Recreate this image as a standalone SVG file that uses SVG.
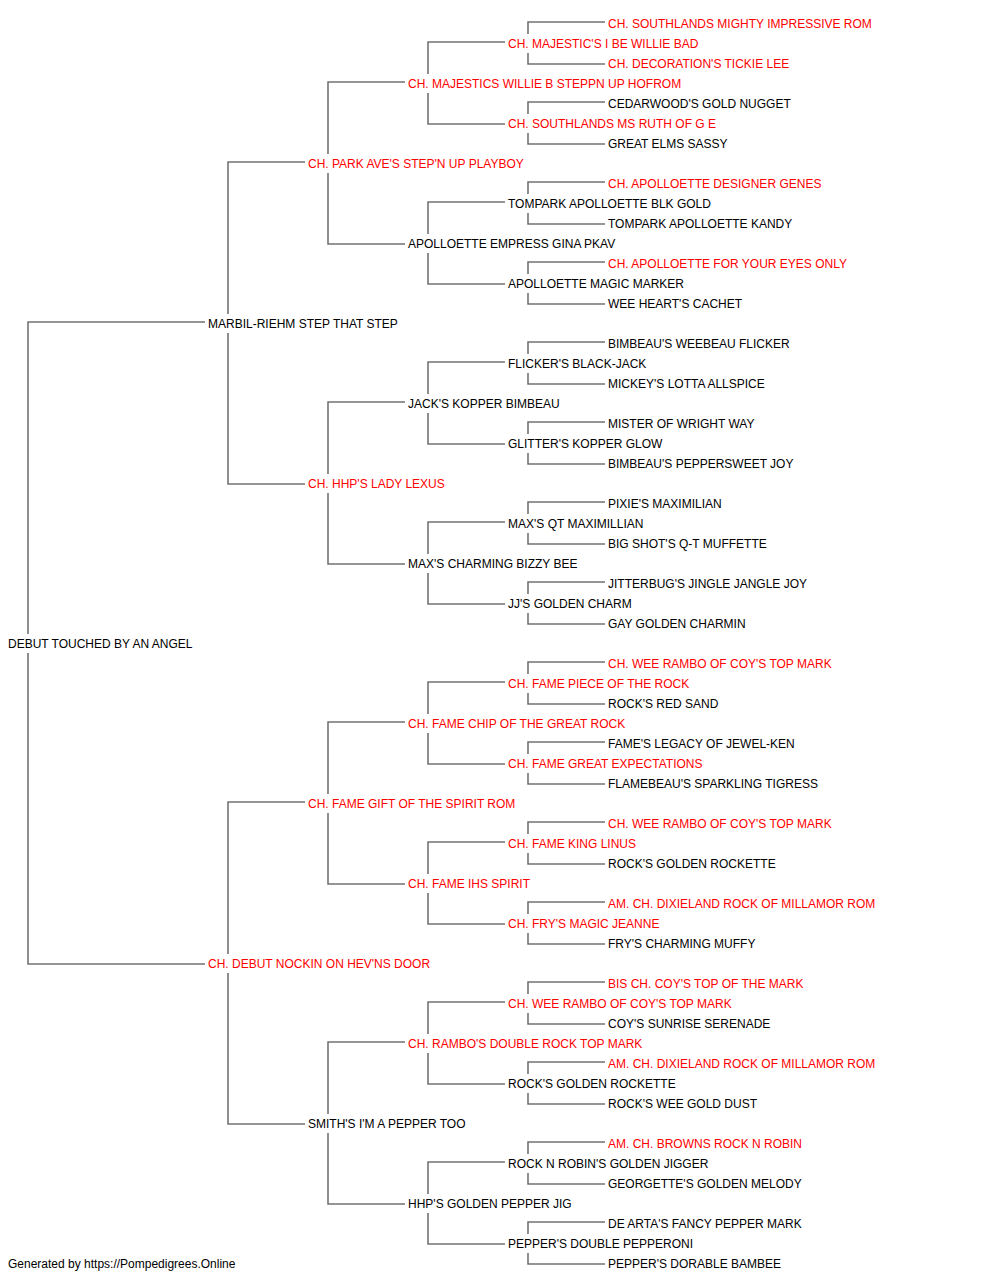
<svg xmlns="http://www.w3.org/2000/svg" width="1000" height="1280" viewBox="0 0 1000 1280">
<style>
text{font-family:"Liberation Sans",Arial,sans-serif;font-size:12px;fill:#000}
text.ch{fill:#ff0000}
.c path{fill:none;stroke:#737373;stroke-width:1.6}
</style>
<rect width="1000" height="1280" fill="#fff"/>
<g class="c" id="connectors">
<path d="M205,322 H28 V634 M28,653 V964 H205"/>
<path d="M305,162 H228 V314 M228,333 V484 H305"/>
<path d="M305,802 H228 V954 M228,973 V1124 H305"/>
<path d="M405,82 H328 V154 M328,173 V244 H405"/>
<path d="M405,402 H328 V474 M328,493 V564 H405"/>
<path d="M405,722 H328 V794 M328,813 V884 H405"/>
<path d="M405,1042 H328 V1114 M328,1133 V1204 H405"/>
<path d="M505,42 H428 V74 M428,93 V124 H505"/>
<path d="M505,202 H428 V234 M428,253 V284 H505"/>
<path d="M505,362 H428 V394 M428,413 V444 H505"/>
<path d="M505,522 H428 V554 M428,573 V604 H505"/>
<path d="M505,682 H428 V714 M428,733 V764 H505"/>
<path d="M505,842 H428 V874 M428,893 V924 H505"/>
<path d="M505,1002 H428 V1034 M428,1053 V1084 H505"/>
<path d="M505,1162 H428 V1194 M428,1213 V1244 H505"/>
<path d="M605,22 H528 V34 M528,53 V64 H605"/>
<path d="M605,102 H528 V114 M528,133 V144 H605"/>
<path d="M605,182 H528 V194 M528,213 V224 H605"/>
<path d="M605,262 H528 V274 M528,293 V304 H605"/>
<path d="M605,342 H528 V354 M528,373 V384 H605"/>
<path d="M605,422 H528 V434 M528,453 V464 H605"/>
<path d="M605,502 H528 V514 M528,533 V544 H605"/>
<path d="M605,582 H528 V594 M528,613 V624 H605"/>
<path d="M605,662 H528 V674 M528,693 V704 H605"/>
<path d="M605,742 H528 V754 M528,773 V784 H605"/>
<path d="M605,822 H528 V834 M528,853 V864 H605"/>
<path d="M605,902 H528 V914 M528,933 V944 H605"/>
<path d="M605,982 H528 V994 M528,1013 V1024 H605"/>
<path d="M605,1062 H528 V1074 M528,1093 V1104 H605"/>
<path d="M605,1142 H528 V1154 M528,1173 V1184 H605"/>
<path d="M605,1222 H528 V1234 M528,1253 V1264 H605"/>
</g>
<g id="n-root"><text x="8" y="648">DEBUT TOUCHED BY AN ANGEL</text></g>
<g id="n-s"><text x="208" y="328">MARBIL-RIEHM STEP THAT STEP</text></g>
<g id="n-d"><text class="ch" x="208" y="968">CH. DEBUT NOCKIN ON HEV'NS DOOR</text></g>
<g id="n-ss"><text class="ch" x="308" y="168">CH. PARK AVE'S STEP'N UP PLAYBOY</text></g>
<g id="n-sd"><text class="ch" x="308" y="488">CH. HHP'S LADY LEXUS</text></g>
<g id="n-ds"><text class="ch" x="308" y="808">CH. FAME GIFT OF THE SPIRIT ROM</text></g>
<g id="n-dd"><text x="308" y="1128">SMITH'S I'M A PEPPER TOO</text></g>
<g id="n-sss"><text class="ch" x="408" y="88">CH. MAJESTICS WILLIE B STEPPN UP HOFROM</text></g>
<g id="n-ssd"><text x="408" y="248">APOLLOETTE EMPRESS GINA PKAV</text></g>
<g id="n-sds"><text x="408" y="408">JACK'S KOPPER BIMBEAU</text></g>
<g id="n-sdd"><text x="408" y="568">MAX'S CHARMING BIZZY BEE</text></g>
<g id="n-dss"><text class="ch" x="408" y="728">CH. FAME CHIP OF THE GREAT ROCK</text></g>
<g id="n-dsd"><text class="ch" x="408" y="888">CH. FAME IHS SPIRIT</text></g>
<g id="n-dds"><text class="ch" x="408" y="1048">CH. RAMBO'S DOUBLE ROCK TOP MARK</text></g>
<g id="n-ddd"><text x="408" y="1208">HHP'S GOLDEN PEPPER JIG</text></g>
<g id="n-g4-1"><text class="ch" x="508" y="48">CH. MAJESTIC'S I BE WILLIE BAD</text></g>
<g id="n-g4-2"><text class="ch" x="508" y="128">CH. SOUTHLANDS MS RUTH OF G E</text></g>
<g id="n-g4-3"><text x="508" y="208">TOMPARK APOLLOETTE BLK GOLD</text></g>
<g id="n-g4-4"><text x="508" y="288">APOLLOETTE MAGIC MARKER</text></g>
<g id="n-g4-5"><text x="508" y="368">FLICKER'S BLACK-JACK</text></g>
<g id="n-g4-6"><text x="508" y="448">GLITTER'S KOPPER GLOW</text></g>
<g id="n-g4-7"><text x="508" y="528">MAX'S QT MAXIMILLIAN</text></g>
<g id="n-g4-8"><text x="508" y="608">JJ'S GOLDEN CHARM</text></g>
<g id="n-g4-9"><text class="ch" x="508" y="688">CH. FAME PIECE OF THE ROCK</text></g>
<g id="n-g4-10"><text class="ch" x="508" y="768">CH. FAME GREAT EXPECTATIONS</text></g>
<g id="n-g4-11"><text class="ch" x="508" y="848">CH. FAME KING LINUS</text></g>
<g id="n-g4-12"><text class="ch" x="508" y="928">CH. FRY'S MAGIC JEANNE</text></g>
<g id="n-g4-13"><text class="ch" x="508" y="1008">CH. WEE RAMBO OF COY'S TOP MARK</text></g>
<g id="n-g4-14"><text x="508" y="1088">ROCK'S GOLDEN ROCKETTE</text></g>
<g id="n-g4-15"><text x="508" y="1168">ROCK N ROBIN'S GOLDEN JIGGER</text></g>
<g id="n-g4-16"><text x="508" y="1248">PEPPER'S DOUBLE PEPPERONI</text></g>
<g id="n-g5-1"><text class="ch" x="608" y="28">CH. SOUTHLANDS MIGHTY IMPRESSIVE ROM</text></g>
<g id="n-g5-2"><text class="ch" x="608" y="68">CH. DECORATION'S TICKIE LEE</text></g>
<g id="n-g5-3"><text x="608" y="108">CEDARWOOD'S GOLD NUGGET</text></g>
<g id="n-g5-4"><text x="608" y="148">GREAT ELMS SASSY</text></g>
<g id="n-g5-5"><text class="ch" x="608" y="188">CH. APOLLOETTE DESIGNER GENES</text></g>
<g id="n-g5-6"><text x="608" y="228">TOMPARK APOLLOETTE KANDY</text></g>
<g id="n-g5-7"><text class="ch" x="608" y="268">CH. APOLLOETTE FOR YOUR EYES ONLY</text></g>
<g id="n-g5-8"><text x="608" y="308">WEE HEART'S CACHET</text></g>
<g id="n-g5-9"><text x="608" y="348">BIMBEAU'S WEEBEAU FLICKER</text></g>
<g id="n-g5-10"><text x="608" y="388">MICKEY'S LOTTA ALLSPICE</text></g>
<g id="n-g5-11"><text x="608" y="428">MISTER OF WRIGHT WAY</text></g>
<g id="n-g5-12"><text x="608" y="468">BIMBEAU'S PEPPERSWEET JOY</text></g>
<g id="n-g5-13"><text x="608" y="508">PIXIE'S MAXIMILIAN</text></g>
<g id="n-g5-14"><text x="608" y="548">BIG SHOT'S Q-T MUFFETTE</text></g>
<g id="n-g5-15"><text x="608" y="588">JITTERBUG'S JINGLE JANGLE JOY</text></g>
<g id="n-g5-16"><text x="608" y="628">GAY GOLDEN CHARMIN</text></g>
<g id="n-g5-17"><text class="ch" x="608" y="668">CH. WEE RAMBO OF COY'S TOP MARK</text></g>
<g id="n-g5-18"><text x="608" y="708">ROCK'S RED SAND</text></g>
<g id="n-g5-19"><text x="608" y="748">FAME'S LEGACY OF JEWEL-KEN</text></g>
<g id="n-g5-20"><text x="608" y="788">FLAMEBEAU'S SPARKLING TIGRESS</text></g>
<g id="n-g5-21"><text class="ch" x="608" y="828">CH. WEE RAMBO OF COY'S TOP MARK</text></g>
<g id="n-g5-22"><text x="608" y="868">ROCK'S GOLDEN ROCKETTE</text></g>
<g id="n-g5-23"><text class="ch" x="608" y="908">AM. CH. DIXIELAND ROCK OF MILLAMOR ROM</text></g>
<g id="n-g5-24"><text x="608" y="948">FRY'S CHARMING MUFFY</text></g>
<g id="n-g5-25"><text class="ch" x="608" y="988">BIS CH. COY'S TOP OF THE MARK</text></g>
<g id="n-g5-26"><text x="608" y="1028">COY'S SUNRISE SERENADE</text></g>
<g id="n-g5-27"><text class="ch" x="608" y="1068">AM. CH. DIXIELAND ROCK OF MILLAMOR ROM</text></g>
<g id="n-g5-28"><text x="608" y="1108">ROCK'S WEE GOLD DUST</text></g>
<g id="n-g5-29"><text class="ch" x="608" y="1148">AM. CH. BROWNS ROCK N ROBIN</text></g>
<g id="n-g5-30"><text x="608" y="1188">GEORGETTE'S GOLDEN MELODY</text></g>
<g id="n-g5-31"><text x="608" y="1228">DE ARTA'S FANCY PEPPER MARK</text></g>
<g id="n-g5-32"><text x="608" y="1268">PEPPER'S DORABLE BAMBEE</text></g>
<text x="8" y="1268">Generated by https://Pompedigrees.Online</text>
</svg>
